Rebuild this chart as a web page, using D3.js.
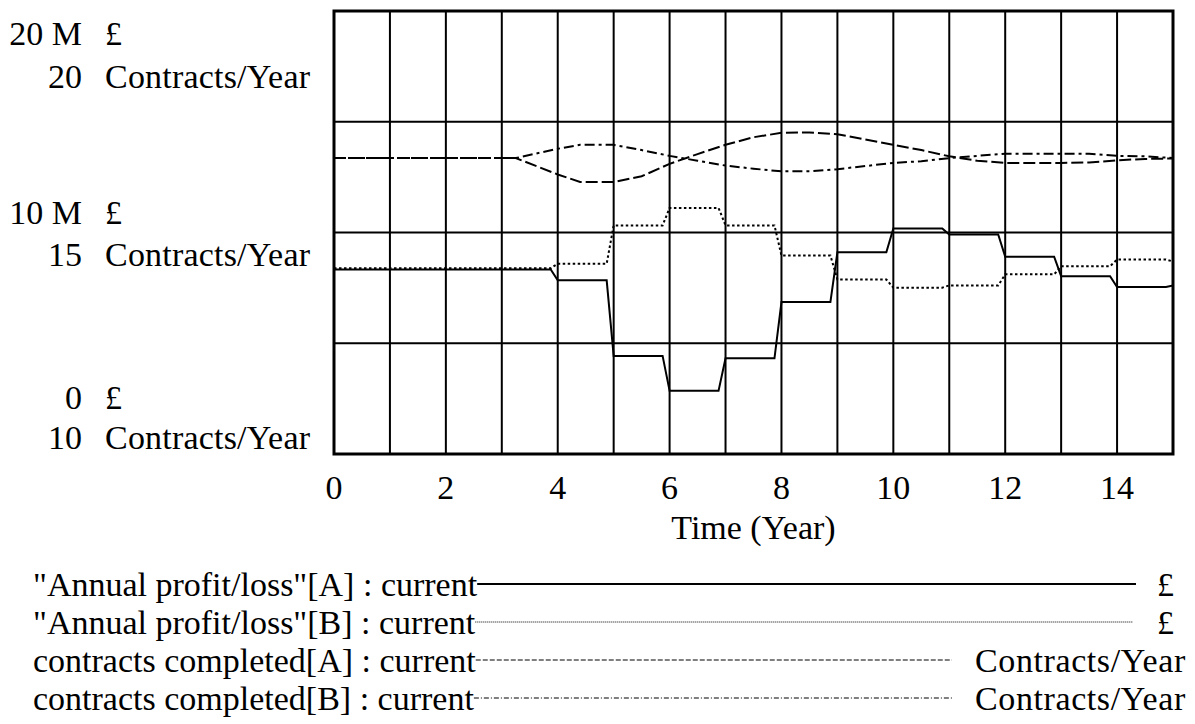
<!DOCTYPE html>
<html>
<head>
<meta charset="utf-8">
<script src="https://cdn.jsdelivr.net/npm/d3@7"></script>
<style>
  body { margin: 0; background: #fff; }
  text { font-family: "Liberation Serif", "Times New Roman", serif; font-size: 34px; fill: #000; }
</style>
</head>
<body>
<script>
"use strict";

(function(){

  window.addEventListener("load", init);

  // profit series (M £), step changes sampled at the save points
  const profitTime = [0, 3.875, 4, 4.875, 5, 5.875, 6, 6.875, 7, 7.875, 8, 8.875, 9,
                      9.875, 10, 10.875, 11, 11.875, 12, 12.875, 13, 13.875, 14, 14.875, 15];
  const profitA = [8.33, 8.33, 7.84, 7.84, 4.43, 4.43, 2.85, 2.85, 4.32, 4.32, 6.86, 6.86, 9.11,
                   9.11, 10.18, 10.18, 9.91, 9.91, 8.91, 8.91, 8.03, 8.03, 7.54, 7.54, 7.61];
  const profitB = [8.39, 8.39, 8.59, 8.59, 10.32, 10.32, 11.11, 11.11, 10.32, 10.32, 8.96, 8.96, 7.88,
                   7.88, 7.51, 7.51, 7.61, 7.61, 8.11, 8.11, 8.48, 8.48, 8.78, 8.78, 8.69];

  // contracts completed (Contracts/Year)
  const contractTime = [0, 3.25, 4, 4.4, 5, 5.5, 6, 6.5, 7, 7.5, 8, 8.5, 9, 9.5, 10,
                        10.5, 11, 11.5, 12, 12.5, 13, 13.5, 14, 14.5, 15];
  const contractsA = [16.68, 16.68, 16.31, 16.14, 16.14, 16.27, 16.55, 16.77, 16.98, 17.15, 17.25, 17.26, 17.22,
                      17.10, 16.98, 16.86, 16.72, 16.62, 16.57, 16.57, 16.57, 16.58, 16.63, 16.66, 16.67];
  const contractsB = [16.68, 16.68, 16.89, 16.98, 16.98, 16.86, 16.73, 16.62, 16.51, 16.44, 16.38, 16.38, 16.43,
                      16.50, 16.57, 16.61, 16.68, 16.73, 16.78, 16.78, 16.78, 16.78, 16.73, 16.72, 16.68];

  const timeTicks = [0, 2, 4, 6, 8, 10, 12, 14];
  const legendNames = ['"Annual profit/loss"[A] : current', '"Annual profit/loss"[B] : current',
                       'contracts completed[A] : current', 'contracts completed[B] : current'];
  const legendUnits = ["£", "£", "Contracts/Year", "Contracts/Year"];

  let svgContainer = "";
  const measurements = {
    width: 1195,
    height: 724,
    left: 334,
    right: 1173,
    top: 11,
    bottom: 454
  };

  function init() {
    svgContainer = d3.select("body").append("svg")
        .attr("width", measurements.width)
        .attr("height", measurements.height);

    let scaleX = d3.scaleLinear()
        .domain([0, 15])
        .range([measurements.left, measurements.right]);
    let scaleMoney = d3.scaleLinear()
        .domain([0, 20])
        .range([measurements.bottom, measurements.top]);
    let scaleContracts = d3.scaleLinear()
        .domain([10, 20])
        .range([measurements.bottom, measurements.top]);

    drawGrid(scaleX, scaleMoney);
    plotData(scaleX, scaleMoney, scaleContracts);
    drawLabels(scaleX, scaleMoney);
    drawLegend();
  }

  function drawGrid(scaleX, scaleMoney) {
    let grid = svgContainer.append("g");
    grid.selectAll(".vgrid")
        .data(d3.range(1, 15))
        .enter()
        .append("line")
          .attr("x1", (d) => scaleX(d))
          .attr("x2", (d) => scaleX(d))
          .attr("y1", measurements.top)
          .attr("y2", measurements.bottom)
          .attr("stroke", "#000")
          .attr("stroke-width", 2);
    grid.selectAll(".hgrid")
        .data([5, 10, 15])
        .enter()
        .append("line")
          .attr("x1", measurements.left)
          .attr("x2", measurements.right)
          .attr("y1", (d) => scaleMoney(d))
          .attr("y2", (d) => scaleMoney(d))
          .attr("stroke", "#000")
          .attr("stroke-width", 2);
  }

  function plotData(scaleX, scaleMoney, scaleContracts) {
    const series = [
      {time: profitTime, values: profitA, scale: scaleMoney, dash: null},
      {time: profitTime, values: profitB, scale: scaleMoney, dash: "2.5,2.5"},
      {time: contractTime, values: contractsA, scale: scaleContracts, dash: "12,4"},
      {time: contractTime, values: contractsB, scale: scaleContracts, dash: "10,4,3,4"}
    ];

    series.forEach(function(s) {
      let line = d3.line()
          .x((d, i) => scaleX(s.time[i]))
          .y((d) => s.scale(d));
      svgContainer.append("path")
          .attr("d", line(s.values))
          .attr("fill", "none")
          .attr("stroke", "#000")
          .attr("stroke-width", 2)
          .attr("stroke-dasharray", s.dash);
    });

    // plot frame on top
    svgContainer.append("rect")
        .attr("x", measurements.left)
        .attr("y", measurements.top)
        .attr("width", measurements.right - measurements.left)
        .attr("height", measurements.bottom - measurements.top)
        .attr("fill", "none")
        .attr("stroke", "#000")
        .attr("stroke-width", 3);
  }

  function drawLabels(scaleX, scaleMoney) {
    // left axis: value pairs (money over contracts)
    const axisRows = [
      {num: "20 M", unit: "£", y: measurements.top + 22},
      {num: "20", unit: "Contracts/Year", y: measurements.top + 65},
      {num: "10 M", unit: "£", y: scaleMoney(10) - 20},
      {num: "15", unit: "Contracts/Year", y: scaleMoney(10) + 22},
      {num: "0", unit: "£", y: measurements.bottom - 57},
      {num: "10", unit: "Contracts/Year", y: measurements.bottom - 17}
    ];
    let axisText = svgContainer.append("g");
    axisRows.forEach(function(r) {
      axisText.append("text")
          .attr("x", 82)
          .attr("y", r.y)
          .attr("dy", "0.35em")
          .attr("text-anchor", "end")
          .text(r.num);
      axisText.append("text")
          .attr("x", 105)
          .attr("y", r.y)
          .attr("dy", "0.35em")
          .style("letter-spacing", "0.2px")
          .text(r.unit);
    });

    svgContainer.append("g").selectAll("text")
        .data(timeTicks)
        .enter()
        .append("text")
          .attr("x", (d) => scaleX(d))
          .attr("y", 487)
          .attr("dy", "0.35em")
          .attr("text-anchor", "middle")
          .text((d) => d);

    svgContainer.append("text")
        .attr("x", (measurements.left + measurements.right) / 2)
        .attr("y", 527)
        .attr("dy", "0.35em")
        .attr("text-anchor", "middle")
        .text("Time (Year)");
  }

  function drawLegend() {
    const rowY = [584, 622, 660, 698];
    const lineEnd = [1136, 1133, 952, 952];
    const unitX = [1157, 1157, 975, 975];
    const legendStyles = [
      {width: 2, dash: null},
      {width: 1, dash: "1,1"},
      {width: 1, dash: "5,2"},
      {width: 1, dash: "5,2,1,2"}
    ];

    let legend = svgContainer.append("g");
    legendNames.forEach(function(name, i) {
      let label = legend.append("text")
          .attr("x", 33)
          .attr("y", rowY[i])
          .attr("dy", "0.35em")
          .text(name);
      let textEnd = 33 + label.node().getComputedTextLength();
      legend.append("line")
          .attr("x1", textEnd)
          .attr("x2", lineEnd[i])
          .attr("y1", rowY[i])
          .attr("y2", rowY[i])
          .attr("stroke", "#000")
          .attr("stroke-width", legendStyles[i].width)
          .attr("stroke-dasharray", legendStyles[i].dash);
      legend.append("text")
          .attr("x", unitX[i])
          .attr("y", rowY[i])
          .attr("dy", "0.35em")
          .style("letter-spacing", "0.6px")
          .text(legendUnits[i]);
    });
  }

})()
</script>
</body>
</html>
